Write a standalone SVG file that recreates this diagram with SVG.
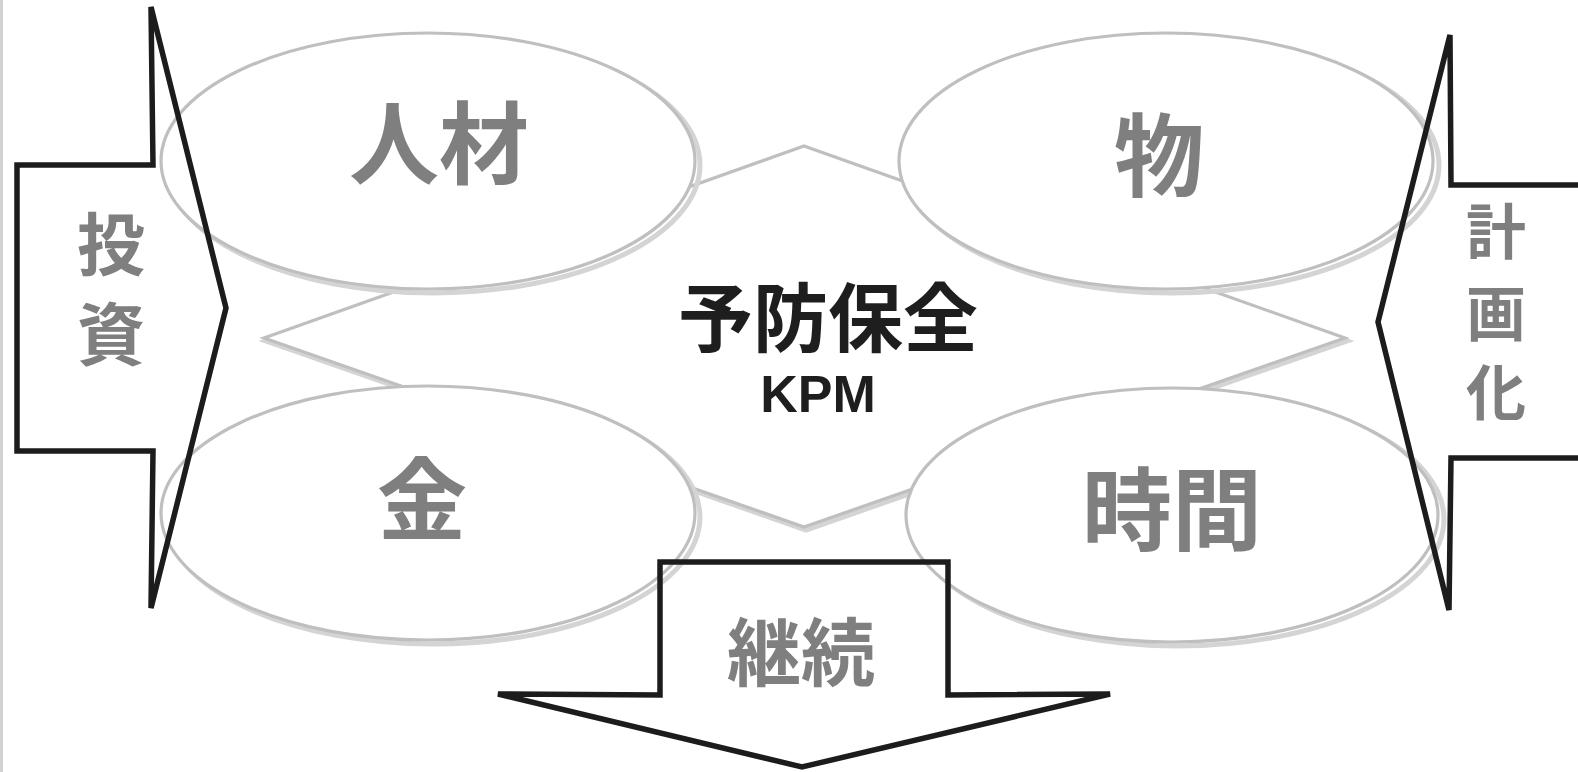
<svg xmlns="http://www.w3.org/2000/svg" width="1578" height="772" viewBox="0 0 1578 772">
<style>
.shadow{fill:none;stroke:#d4d4d4;stroke-width:5}
.shape{fill:#ffffff;stroke:#bfbfbf;stroke-width:3.2}
.arrow{fill:none;stroke:#1c1c1c;stroke-width:5.5;stroke-linejoin:miter;stroke-miterlimit:4}
.lbl{font-family:"Noto Sans CJK JP","Noto Sans CJK SC",sans-serif;font-weight:bold;fill:#7f7f7f;text-anchor:middle}
.main{font-family:"Noto Sans CJK JP","Noto Sans CJK SC",sans-serif;font-weight:bold;fill:#1e1e1e;text-anchor:middle}
.latin{font-family:"Liberation Sans",Arial,sans-serif;font-weight:bold;fill:#1e1e1e;text-anchor:middle}
</style>
<rect x="0" y="0" width="1578" height="772" fill="#ffffff"/>
<rect x="0" y="0" width="3" height="772" fill="#d2d2d2"/>
<g id="center">
<polygon class="shadow" points="806,149 1347,341 806,530 266,341"/>
<polygon class="shape" points="804,146 1345,338 804,527 264,338"/>
<text class="main" x="828" y="346" font-size="75">予防保全</text>
<text class="latin" x="818" y="412" font-size="52">KPM</text>
</g>
<g id="node-jinzai">
<ellipse class="shadow" cx="433" cy="165" rx="267" ry="128"/>
<ellipse class="shape" cx="428" cy="161" rx="267" ry="128"/>
<text class="lbl" x="439" y="177" font-size="90">人材</text>
</g>
<g id="node-mono">
<ellipse class="shadow" cx="1172" cy="165" rx="267" ry="128"/>
<ellipse class="shape" cx="1166" cy="161" rx="267" ry="128"/>
<text class="lbl" x="1159" y="189" font-size="90">物</text>
</g>
<g id="node-kane">
<ellipse class="shadow" cx="433" cy="517" rx="267" ry="127"/>
<ellipse class="shape" cx="428" cy="513" rx="267" ry="127"/>
<text class="lbl" x="422" y="533" font-size="90">金</text>
</g>
<g id="node-jikan">
<ellipse class="shadow" cx="1178" cy="519" rx="266" ry="127"/>
<ellipse class="shape" cx="1172" cy="515" rx="266" ry="127"/>
<text class="lbl" x="1172" y="543" font-size="90">時間</text>
</g>
<g id="arrow-toushi">
<polygon class="arrow" points="17,165 153,165 151,7 226,308 151,608 153,451 17,451"/>
<text class="lbl" x="111" y="270" font-size="68">投</text>
<text class="lbl" x="111" y="360" font-size="68">資</text>
</g>
<g id="arrow-keikaku">
<path class="arrow" d="M1582,185 L1451,185 L1450,35 L1378,322 L1449,610 L1451,458 L1582,458"/>
<text class="lbl" x="1496" y="254" font-size="60">計</text>
<text class="lbl" x="1496" y="336" font-size="60">画</text>
<text class="lbl" x="1496" y="415" font-size="60">化</text>
</g>
<g id="arrow-keizoku">
<polygon class="arrow" points="660,562 948,562 948,695 1110,694 802,767 498,694 660,695"/>
<text class="lbl" x="801" y="680" font-size="74">継続</text>
</g>
<g id="connectors"></g>
</svg>
